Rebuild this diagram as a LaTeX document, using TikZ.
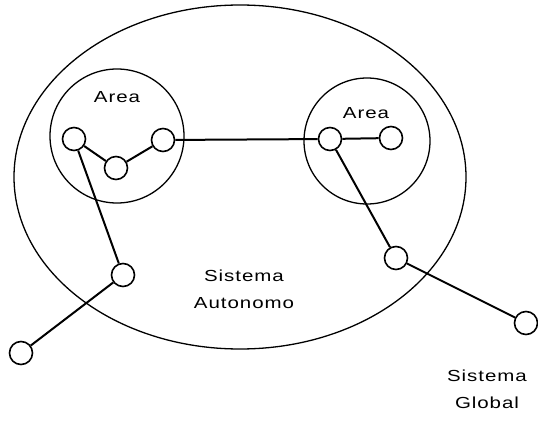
\documentclass[tikz,border=0pt]{standalone}
\usepackage{fontspec}
\setsansfont{Liberation Sans}[LetterSpace=6,FakeStretch=1.28]
\begin{document}
\begin{tikzpicture}[x=1pt,y=-1pt,
  host/.style={circle,draw,line width=1.6pt,fill=white,minimum size=23pt,inner sep=0pt},
  link/.style={line width=2pt},
  region/.style={line width=1.3pt},
  lbl/.style={font=\sffamily\fontsize{16}{27}\selectfont,align=center,inner sep=0pt}]
\useasboundingbox (0,0) rectangle (538,423);
% outer autonomous system
\draw[region] (240,177) ellipse [x radius=226, y radius=172];
% areas
\draw[region] (117,136) circle [radius=67];
\draw[region] (367,141) circle [radius=63];
% hosts
\node[host] (a1) at (74,139) {};
\node[host] (a2) at (116,168) {};
\node[host] (a3) at (163,140) {};
\node[host] (b1) at (330,139) {};
\node[host] (b2) at (391,138) {};
\node[host] (c) at (123,275) {};
\node[host] (d) at (21,353) {};
\node[host] (e) at (396,258) {};
\node[host] (f) at (526,323) {};
% links
\draw[link] (a1) -- (a2);
\draw[link] (a2) -- (a3);
\draw[link] (a3) -- (b1);
\draw[link] (b1) -- (b2);
\draw[link] (a1) -- (c);
\draw[link] (c) -- (d);
\draw[link] (b1) -- (e);
\draw[link] (e) -- (f);
% labels
\node[lbl] (la) at (117,97) {Area};
\node[lbl] (lb) at (366,113) {Area};
\node[lbl] (ls) at (244,289) {Sistema\\Autonomo};
\node[lbl] (lg) at (487,389) {Sistema\\Global};
\end{tikzpicture}
\end{document}
